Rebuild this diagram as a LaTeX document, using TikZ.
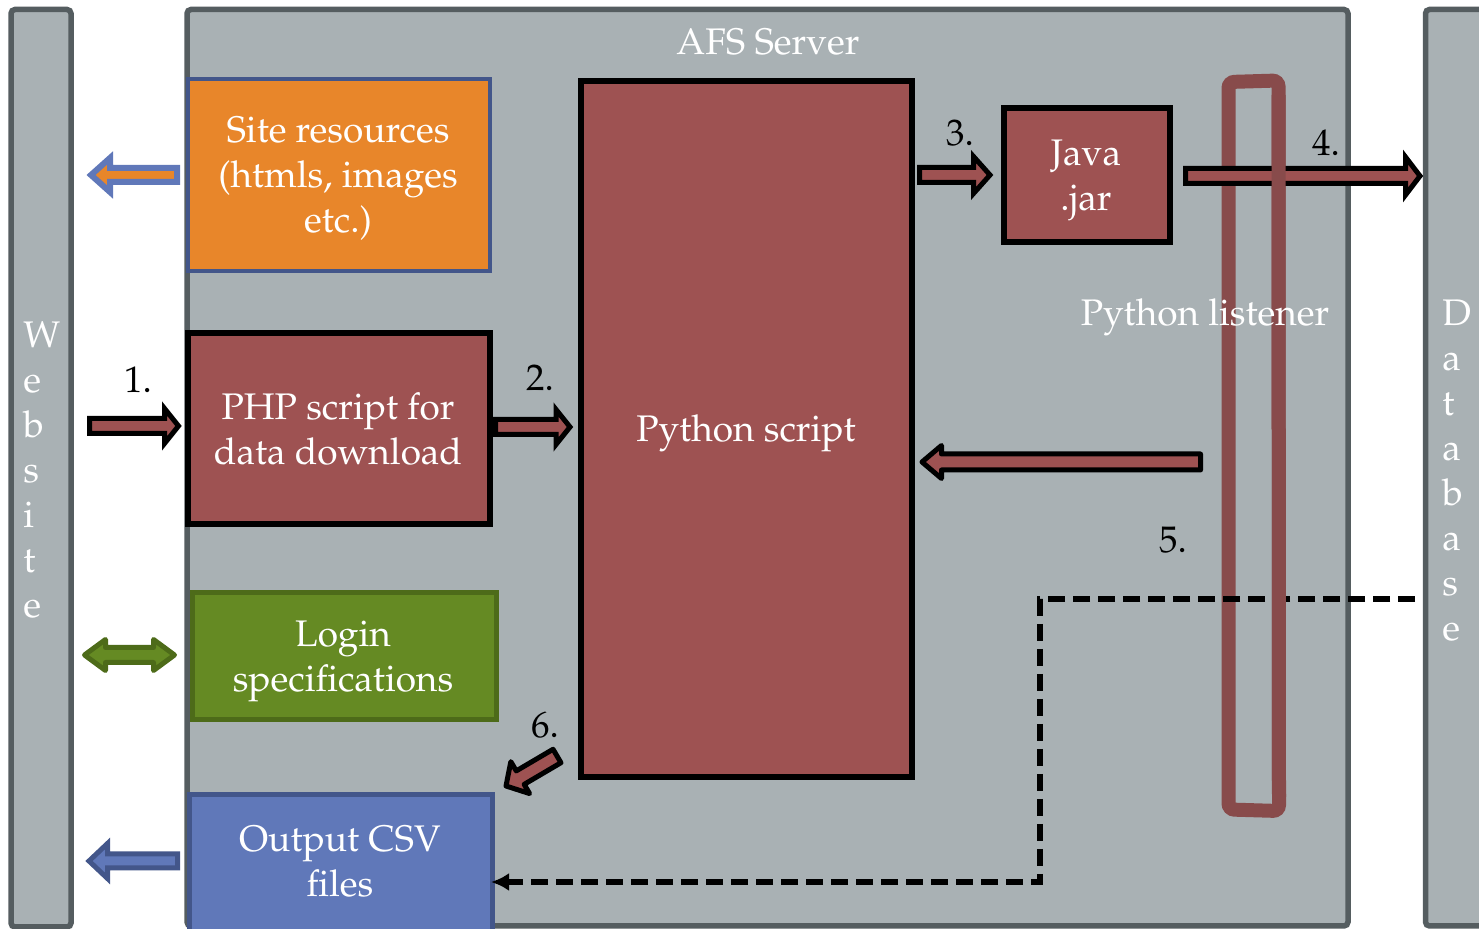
\documentclass[tikz,border=0pt]{standalone}
\usepackage[T1]{fontenc}
\usepackage{mathpazo}
\usetikzlibrary{calc,fit,arrows.meta}
\definecolor{bggray}{HTML}{A9B1B4}
\definecolor{edgegray}{HTML}{555D60}
\definecolor{brick}{HTML}{9E5252}
\definecolor{orangebox}{HTML}{E8862A}
\definecolor{bluebox}{HTML}{6078B9}
\definecolor{blueedge}{HTML}{43568A}
\definecolor{greenbox}{HTML}{658A23}
\definecolor{greenedge}{HTML}{4D6B19}
\definecolor{listen}{HTML}{884B4B}
% block arrow: #1 style, #2 from, #3 to, #4 shaft half, #5 head half, #6 head length
\newcommand{\blockarr}[6]{%
  \draw[#1] ($(#2)!#4!90:(#3)$) -- ($(#3)!#6!(#2)!#4!-90:(#2)$) -- ($(#3)!#6!(#2)!#5!-90:(#2)$)
    -- (#3) -- ($(#3)!#6!(#2)!#5!90:(#2)$) -- ($(#3)!#6!(#2)!#4!90:(#2)$)
    -- ($(#2)!#4!-90:(#3)$) -- cycle;}
% double block arrow
\newcommand{\dblockarr}[6]{%
  \draw[#1] (#2) -- ($(#2)!#6!(#3)!#5!90:(#3)$) -- ($(#2)!#6!(#3)!#4!90:(#3)$)
    -- ($(#3)!#6!(#2)!#4!-90:(#2)$) -- ($(#3)!#6!(#2)!#5!-90:(#2)$) -- (#3)
    -- ($(#3)!#6!(#2)!#5!90:(#2)$) -- ($(#3)!#6!(#2)!#4!90:(#2)$)
    -- ($(#2)!#6!(#3)!#4!-90:(#3)$) -- ($(#2)!#6!(#3)!#5!-90:(#3)$) -- cycle;}
\begin{document}
\begin{tikzpicture}[x=0.5pt,y=-0.5pt,
  txt/.style={font=\fontsize{18.5}{22.5}\selectfont, inner sep=0pt},
  wtxt/.style={txt, text=white, align=center},
  vtxt/.style={txt, text=white, align=left, anchor=west},
  num/.style={txt, text=black},
  panel/.style={draw=edgegray, fill=bggray, line width=2.75pt, inner sep=0pt, rounded corners=2pt},
  box/.style={inner sep=0pt},
  brickbox/.style={box, fill=brick, draw=black, line width=2.75pt},
  brickarr/.style={fill=brick, draw=black, line width=2.5pt},
  brickarrround/.style={brickarr, line join=round},
]
\useasboundingbox (0,0) rectangle (1479,929);
\clip (0,0) rectangle (1479,929);
\fill[white] (0,0) rectangle (1479,929);

% panels
\node[panel, fit={(11,9.5)(71,927)}] (web) {};
\node[panel, fit={(187,9.5)(1348,926)}] (afs) {};
\node[panel, fit={(1425.5,9.5)(1530,926)}] (db) {};
\node[vtxt] (webtxt) at (23,470) {W\\e\\b\\s\\i\\t\\e};
\node[vtxt] (dbtxt) at (1442,471) {D\\a\\t\\a\\b\\a\\s\\e};
\node[wtxt] (afstitle) at (768,42) {AFS Server};

% boxes
\node[box, fit={(188,79)(489.5,271)}, fill=orangebox, draw=blueedge, line width=2pt] (site) {};
\node[wtxt] (sitetxt) at (338,179) {Site resources\\(htmls, images\\etc.)};
\node[brickbox, fit={(188,333)(490,524)}] (php) {};
\node[wtxt] (phptxt) at (338,429) {PHP script for\\data download};
\node[box, fit={(192,593)(496,720)}, fill=greenbox, draw=greenedge, line width=2.5pt] (login) {};
\node[wtxt] (logintxt) at (343,661) {Login\\specifications};
\node[box, fit={(189.5,794.5)(492.5,950)}, fill=bluebox, draw=blueedge, line width=2.5pt] (out) {};
\node[wtxt] (outtxt) at (340,862) {Output CSV\\files};
\node[brickbox, fit={(581,81)(912,777)}] (py) {};
\node[wtxt] (pytxt) at (746,433) {Python script};
\node[brickbox, fit={(1004,108)(1170,242)}] (java) {};
\node[wtxt] (javatxt) at (1086,180) {Java\\.jar};

% python listener ring
\draw[listen, line width=7pt, rounded corners=3pt] (1228.5,82) -- (1278.5,80.5) -- (1279,811) -- (1228.5,809.5) -- cycle;

% arrow end points
\coordinate (a1s) at (89.5,426);  \coordinate (a1e) at (178.5,426);
\coordinate (a2s) at (495.5,427); \coordinate (a2e) at (570,427);
\coordinate (a3s) at (919.5,175); \coordinate (a3e) at (990,175);
\coordinate (a4s) at (1185.5,176);\coordinate (a4e) at (1420,176);
\coordinate (a5s) at (1200.5,462);\coordinate (a5e) at (922,462);
\coordinate (a6s) at (557,756);   \coordinate (a6e) at (506,786);
\coordinate (aos) at (177,175);   \coordinate (aoe) at (91,175);
\coordinate (abs) at (177.5,861); \coordinate (abe) at (89,861);
\coordinate (ags) at (84.5,655);  \coordinate (age) at (174.5,655);

\blockarr{brickarr}{a1s}{a1e}{3.75pt}{8.75pt}{7pt}
\blockarr{brickarr}{a2s}{a2e}{3.75pt}{8.75pt}{7pt}
\blockarr{brickarr}{a3s}{a3e}{3.75pt}{9.25pt}{8.25pt}
\blockarr{brickarr}{a4s}{a4e}{3.75pt}{9.5pt}{7.25pt}
\blockarr{brickarrround}{a5s}{a5e}{4pt}{8.25pt}{9.75pt}
\blockarr{brickarrround}{a6s}{a6e}{3.9pt}{9.25pt}{8.25pt}
\blockarr{fill=orangebox, draw=bluebox, line width=3pt}{aos}{aoe}{3.5pt}{8.5pt}{9.5pt}
\blockarr{fill=bluebox, draw=blueedge, line width=2.5pt}{abs}{abe}{3.5pt}{8.75pt}{9.25pt}
\dblockarr{fill=greenbox, draw=greenedge, line width=2.5pt, line join=round}{ags}{age}{3.75pt}{7.75pt}{10.5pt}

% labels
\node[num] (n1) at (138,380) {1.};
\node[num] (n2) at (540,378) {2.};
\node[num] (n3) at (960,133) {3.};
\node[num] (n4) at (1326,143) {4.};
\node[num] (n5) at (1173,540) {5.};
\node[num] (n6) at (545,725) {6.};

% dashed return path
\coordinate (dstart) at (1415,599);
\coordinate (dturn1) at (1040,599);
\coordinate (dturn2) at (1040,882);
\coordinate (dend) at (491,882);
\draw[line width=2.8pt, dash pattern=on 8.5pt off 4pt, -{Latex[length=9pt,width=9pt]}] (dstart) -- (dturn1) -- (dturn2) -- (dend);

% right side of the listener ring passes over
\draw[listen, line width=7pt] (1278.5,95) -- (1279,797);
\node[wtxt] (listtxt) at (1205,317) {Python listener};
\end{tikzpicture}
\end{document}
